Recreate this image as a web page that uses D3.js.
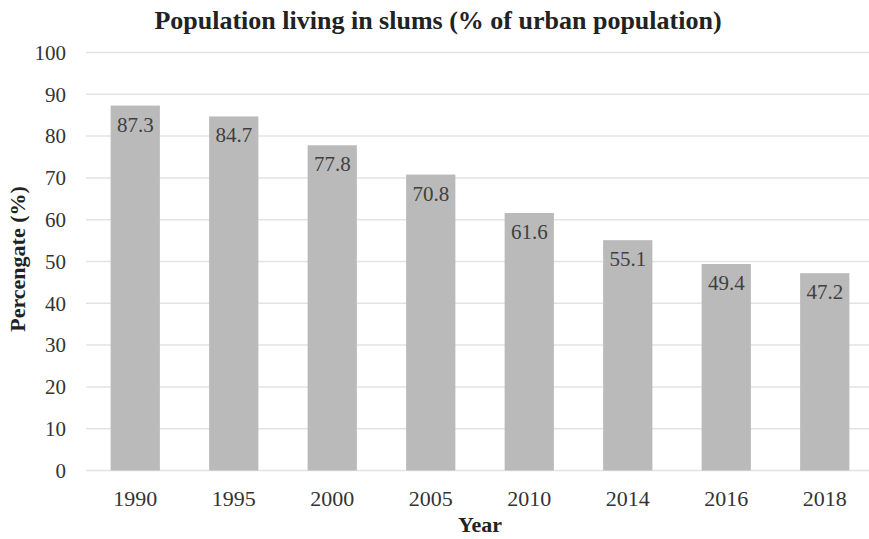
<!DOCTYPE html>
<html>
<head>
<meta charset="utf-8">
<script src="https://cdn.jsdelivr.net/npm/d3@7"></script>
<style>
html,body{margin:0;padding:0;background:#fff;}
svg{display:block;}
text{font-family:"Liberation Serif","Times New Roman",serif;}
</style>
</head>
<body>
<script>
const categories = ["1990","1995","2000","2005","2010","2014","2016","2018"];
const values = [87.3, 84.7, 77.8, 70.8, 61.6, 55.1, 49.4, 47.2];
const yTicks = [0,10,20,30,40,50,60,70,80,90,100];
const title = "Population living in slums (% of urban population)";
const yTitle = "Percengate (%)";
const xTitle = "Year";

const W = 869, H = 539;
const svg = d3.select("body").append("svg").attr("width", W).attr("height", H);

const x = d3.scaleBand().domain(categories).range([86, 874]).paddingInner(0.5).paddingOuter(0.25);
const y = d3.scaleLinear().domain([0, 100]).range([470.5, 52.5]);

// gridlines
svg.append("g").selectAll("line").data(yTicks).join("line")
  .attr("x1", 86).attr("x2", W)
  .attr("y1", d => y(d)).attr("y2", d => y(d))
  .attr("stroke", "#e3e3e3").attr("stroke-width", 1.5);

// y tick labels
svg.append("g").selectAll("text").data(yTicks).join("text")
  .attr("x", 66).attr("y", d => y(d)).attr("dy", "0.35em")
  .attr("text-anchor", "end").attr("font-size", 21).attr("fill", "#333")
  .text(d => d);

// bars
svg.append("g").selectAll("rect").data(values).join("rect")
  .attr("x", (d, i) => x(categories[i]))
  .attr("width", x.bandwidth())
  .attr("y", d => y(d))
  .attr("height", d => y(0) - y(d))
  .attr("fill", "#bababa");

// data labels
svg.append("g").selectAll("text").data(values).join("text")
  .attr("x", (d, i) => x(categories[i]) + x.bandwidth() / 2)
  .attr("y", d => y(d) + 26)
  .attr("text-anchor", "middle").attr("font-size", 21).attr("fill", "#404040")
  .text(d => d.toFixed(1));

// x labels
svg.append("g").selectAll("text").data(categories).join("text")
  .attr("x", d => x(d) + x.bandwidth() / 2)
  .attr("y", 506)
  .attr("text-anchor", "middle").attr("font-size", 22).attr("fill", "#333")
  .text(d => d);

// title
svg.append("text").attr("x", 438).attr("y", 29)
  .attr("text-anchor", "middle").attr("font-size", 26).attr("font-weight", "bold").attr("fill", "#222")
  .text(title);

// axis titles
svg.append("text").attr("x", 480).attr("y", 532)
  .attr("text-anchor", "middle").attr("font-size", 22).attr("font-weight", "bold").attr("fill", "#222")
  .text(xTitle);
svg.append("text").attr("transform", "translate(25,259) rotate(-90)")
  .attr("text-anchor", "middle").attr("font-size", 22).attr("font-weight", "bold").attr("fill", "#222")
  .text(yTitle);
</script>
</body>
</html>
